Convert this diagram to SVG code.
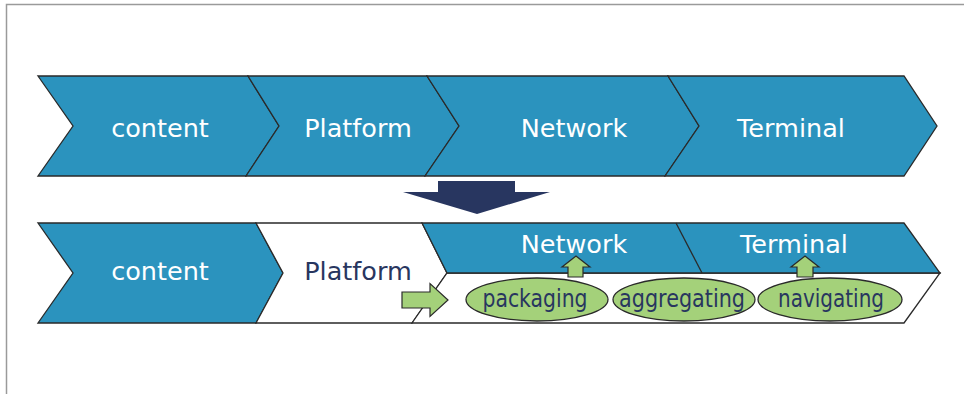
<svg xmlns="http://www.w3.org/2000/svg" width="964" height="394" viewBox="0 0 964 394">
<style>
.blue{fill:#2B93BE;stroke:#2a2a2a;stroke-width:1.3;stroke-linejoin:miter}
.white{fill:#ffffff;stroke:#2a2a2a;stroke-width:1.3}
.lbl{font-family:"DejaVu Sans",sans-serif;font-size:25.5px;text-anchor:middle}
.wt{fill:#ffffff}
.nv{fill:#28365F}
.oval{fill:#A4D17A;stroke:#2a2a2a;stroke-width:1.3}
.small{font-family:"DejaVu Sans",sans-serif;font-size:25px;text-anchor:middle;fill:#28365F}
.garrow{fill:#A4D17A;stroke:#2a2a2a;stroke-width:1.2;stroke-linejoin:miter}
</style>
<rect width="964" height="394" fill="#ffffff"/>
<path d="M6.5,394 V4.5 H964" fill="none" stroke="#9a9a9a" stroke-width="1.5"/>

<!-- top row -->
<g id="top-content">
<path class="blue" d="M38,76 L248,76 L279,126 L246,176 L38,176 L73,126 Z"/>
<text class="lbl wt" x="160" y="137">content</text>
</g>
<g id="top-platform">
<path class="blue" d="M248,76 L427,76 L459,126 L425,176 L246,176 L279,126 Z"/>
<text class="lbl wt" x="358" y="137">Platform</text>
</g>
<g id="top-network">
<path class="blue" d="M427,76 L668,76 L699,126 L665,176 L425,176 L459,126 Z"/>
<text class="lbl wt" x="574" y="137">Network</text>
</g>
<g id="top-terminal">
<path class="blue" d="M668,76 L904,76 L937,126 L904,176 L665,176 L699,126 Z"/>
<text class="lbl wt" x="791" y="137">Terminal</text>
</g>

<!-- bottom row -->
<g id="bot-content">
<path class="blue" d="M38,223 L256,223 L283,273 L256,323 L38,323 L73,273 Z"/>
<text class="lbl wt" x="160" y="280">content</text>
</g>
<g id="bot-platform">
<path class="white" d="M256,223 L422,223 L447,273 L412,323 L256,323 L283,273 Z"/>
<text class="lbl nv" x="358" y="280">Platform</text>
</g>
<g id="bot-band">
<path class="white" d="M447,273 L940,273 L904,323 L412,323 Z"/>
<path class="blue" d="M422,223 L904,223 L940,273 L447,273 Z"/>
<path d="M676,223 L702,273" fill="none" stroke="#2a2a2a" stroke-width="1.3"/>
</g>
<g id="bot-network">
<text class="lbl wt" x="574" y="253">Network</text>
</g>
<g id="bot-terminal">
<text class="lbl wt" x="794" y="253">Terminal</text>
</g>

<!-- connectors -->
<g id="connectors">
<path d="M438,181 H515 V192 H550 L477,214 L403,192 H438 Z" fill="#283660"/>
<path class="garrow" d="M402,292 H430 V283.5 L448,300 L430,316.5 V308 H402 Z"/>
<path class="garrow" d="M568,277 V267 H562 L576,256 L590,267 H583 V277 Z"/>
<path class="garrow" d="M797,277 V267 H791 L805,256 L819,267 H813 V277 Z"/>
</g>

<g id="packaging">
<ellipse class="oval" cx="537" cy="299.5" rx="71" ry="21.5"/>
<text class="small" x="535" y="306.5" textLength="105" lengthAdjust="spacingAndGlyphs">packaging</text>
</g>
<g id="aggregating">
<ellipse class="oval" cx="684" cy="299.5" rx="71" ry="21.5"/>
<text class="small" x="682" y="306.5" textLength="126" lengthAdjust="spacingAndGlyphs">aggregating</text>
</g>
<g id="navigating">
<ellipse class="oval" cx="830" cy="299.5" rx="72" ry="21.5"/>
<text class="small" x="831" y="306.5" textLength="106" lengthAdjust="spacingAndGlyphs">navigating</text>
</g>
</svg>
